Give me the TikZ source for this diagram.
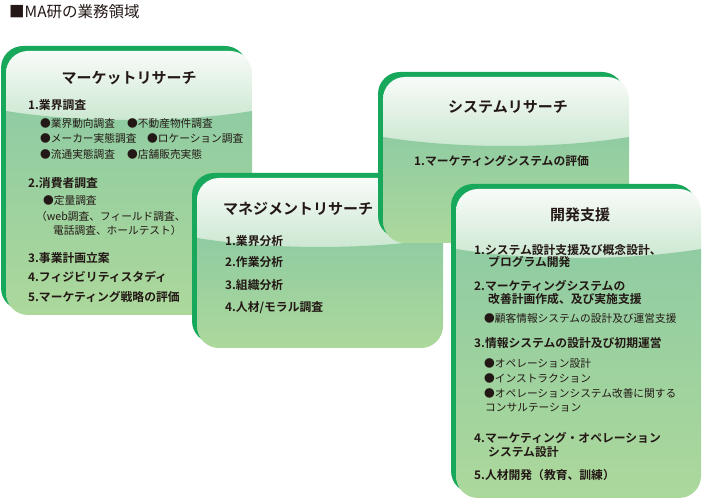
\documentclass[tikz,border=0pt]{standalone}
\usepackage{fontspec}
\setmainfont{Noto Sans CJK JP}[BoldFont={Noto Sans CJK JP Bold}]
\definecolor{gborder}{HTML}{18A85C}
\definecolor{gtop}{HTML}{F8FBF8}
\definecolor{gmid}{HTML}{C8E6CE}
\definecolor{glow}{HTML}{90CCA2}
\definecolor{gbot}{HTML}{ACD89B}
\definecolor{ink}{HTML}{231815}
\newcommand\gbox[4]{%
  \fill[gborder, rounded corners=22pt] ({#1-5},{501-#2+5}) rectangle ({#3-5},{501-#4+5});
  \begin{scope}
    \clip[rounded corners=22pt] ({#1},{501-#2}) rectangle ({#3},{501-#4});
    \shade[top color=gtop, bottom color=gmid] ({#1},{501-#2}) rectangle ({#3},{501-#2-75});
    \shade[top color=glow, bottom color=gbot] ({#1},{501-#2-60}) .. controls ({#1+0.3*(#3-#1)},{501-#2-72}) and ({#1+0.7*(#3-#1)},{501-#2-72}) .. ({#3},{501-#2-60}) -- ({#3},{501-#4}) -- ({#1},{501-#4}) -- cycle;
  \end{scope}}
\tikzset{
  every node/.style={inner sep=0pt, text=ink},
  ttl/.style={anchor=west, font=\fontsize{15.5}{15.5}\selectfont},
  hd/.style={anchor=center, font=\bfseries\fontsize{15}{15}\selectfont},
  it/.style={anchor=west, font=\bfseries\fontsize{11.8}{11.8}\selectfont},
  sb/.style={anchor=west, font=\fontsize{10.7}{10.7}\selectfont},
}
\begin{document}
\begin{tikzpicture}[x=1pt,y=1pt]
\useasboundingbox (0,0) rectangle (702,501);
\node[ttl] (title) at (9,489) {■MA研の業務領域};
% box 1
\gbox{6}{51}{252}{315}
\node[hd] (h1) at (129,423) {マーケットリサーチ};
\node[it] (a1) at (28,396) {1.業界調査};
\node[sb] (a1s1) at (40,378) {●業界動向調査};
\node[sb] (a1s2) at (127,378) {●不動産物件調査};
\node[sb] (a1s3) at (40,363) {●メーカー実態調査};
\node[sb] (a1s4) at (147,363) {●ロケーション調査};
\node[sb] (a1s5) at (40,347) {●流通実態調査};
\node[sb] (a1s6) at (127,347) {●店舗販売実態};
\node[it] (a2) at (28,318) {2.消費者調査};
\node[sb] (a2s1) at (43,301) {●定量調査};
\node[sb] (a2s2) at (36,285) {（web調査、フィールド調査、};
\node[sb] (a2s3) at (53,271) {電話調査、ホールテスト）};
\node[it] (a3) at (28,243) {3.事業計画立案};
\node[it] (a4) at (28,224) {4.フィジビリティスタディ};
\node[it] (a5) at (28,204) {5.マーケティング戦略の評価};
% box 2
\gbox{197}{178}{443}{348}
\node[hd] (h2) at (298,292) {マネジメントリサーチ};
\node[it] (b1) at (225,260) {1.業界分析};
\node[it] (b2) at (225,239) {2.作業分析};
\node[it] (b3) at (225,216) {3.組織分析};
\node[it] (b4) at (225,193) {4.人材/モラル調査};
% box 3
\gbox{383}{77}{629}{243}
\node[hd] (h3) at (508,394) {システムリサーチ};
\node[it] (c1) at (414,340) {1.マーケティングシステムの評価};
% box 4
\gbox{456}{189}{701}{498}
\node[hd] (h4) at (580,286) {開発支援};
\node[it] (d1) at (474,251) {1.システム設計支援及び概念設計、};
\node[it] (d1b) at (488,239) {プログラム開発};
\node[it] (d2) at (474,215) {2.マーケティングシステムの};
\node[it] (d2b) at (488,202) {改善計画作成、及び実施支援};
\node[sb] (d2s) at (484,183) {●顧客情報システムの設計及び運営支援};
\node[it] (d3) at (474,158) {3.情報システムの設計及び初期運営};
\node[sb] (d3s1) at (484,138) {●オペレーション設計};
\node[sb] (d3s2) at (484,123) {●インストラクション};
\node[sb] (d3s3) at (484,108) {●オペレーションシステム改善に関する};
\node[sb] (d3s4) at (485,93) {コンサルテーション};
\node[it] (d4) at (474,63) {4.マーケティング・オペレーション};
\node[it] (d4b) at (488,49) {システム設計};
\node[it] (d5) at (474,26) {5.人材開発（教育、訓練）};
\end{tikzpicture}
\end{document}
